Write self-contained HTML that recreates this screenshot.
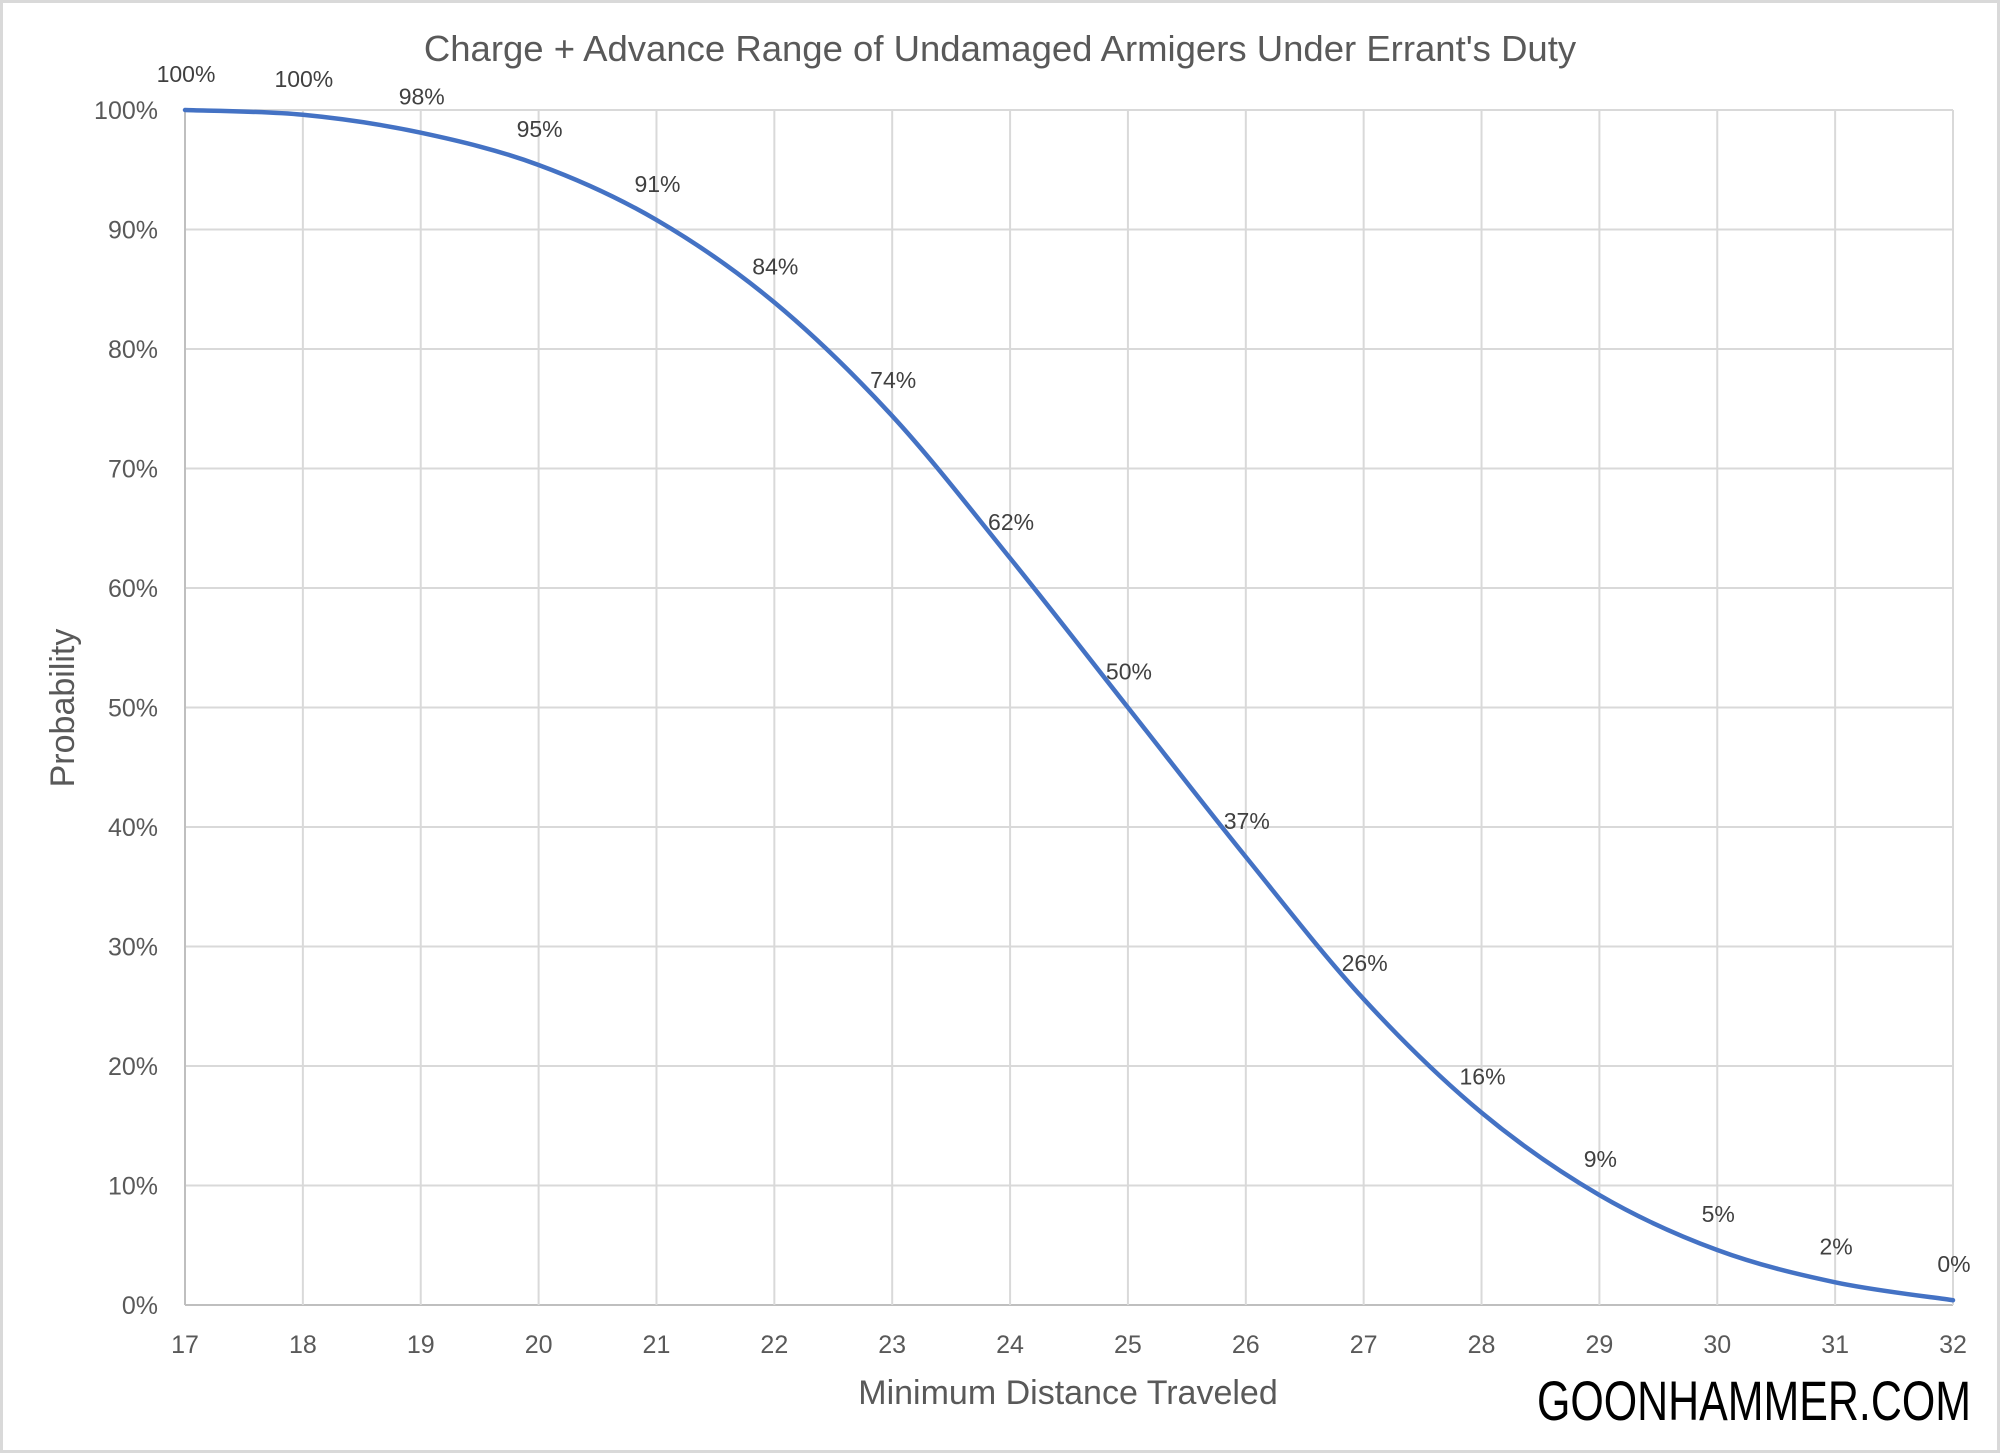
<!DOCTYPE html>
<html><head><meta charset="utf-8"><style>
html,body{margin:0;padding:0;background:#fff}
svg{display:block}
text{font-family:"Liberation Sans",sans-serif}
</style></head><body>
<svg id="s" width="2000" height="1453" viewBox="0 0 2000 1453" xmlns="http://www.w3.org/2000/svg">
<rect x="1.5" y="1.5" width="1997" height="1450" fill="#fff" stroke="#d9d9d9" stroke-width="3"/>
<g id="grid" stroke="#d9d9d9" stroke-width="2"></g>
<g id="lab" fill="#595959" font-size="25"></g>
<path id="curve" fill="none" stroke="#4472c4" stroke-width="4.5" stroke-linecap="round"/>
<g id="dl" fill="#404040" font-size="23" text-anchor="middle"></g>
<text x="1000" y="61" text-anchor="middle" font-size="36.5" fill="#595959">Charge + Advance Range of Undamaged Armigers Under Errant's Duty</text>
<text x="1068" y="1404" text-anchor="middle" font-size="34" fill="#595959">Minimum Distance Traveled</text>
<text transform="translate(74,708) rotate(-90)" text-anchor="middle" font-size="34" fill="#595959">Probability</text>
<text x="1537" y="1420" font-size="56" fill="#000" textLength="434" lengthAdjust="spacingAndGlyphs" font-family="'DejaVu Sans Condensed','Liberation Sans',sans-serif">GOONHAMMER.COM</text>
</svg>
<script>
var L=185,R=1953,T=110,B=1305,ns="http://www.w3.org/2000/svg";
function X(i){return L+(i-17)*(R-L)/15}
function Y(v){return B-v*(B-T)/100}
function el(p,t,a,txt){var e=document.createElementNS(ns,t);for(var k in a)e.setAttribute(k,a[k]);if(txt!=null)e.textContent=txt;document.getElementById(p).appendChild(e);}
for(var v=0;v<=100;v+=10){el('grid','line',{x1:L,x2:R,y1:Y(v),y2:Y(v),stroke:v==0?'#bfbfbf':'#d9d9d9'});el('lab','text',{x:158,y:Y(v)+9,'text-anchor':'end'},v+'%');}
for(var i=17;i<=32;i++){el('grid','line',{x1:X(i),x2:X(i),y1:T,y2:B,stroke:i==17?'#bfbfbf':'#d9d9d9'});el('lab','text',{x:X(i),y:1353,'text-anchor':'middle'},i);}
var d=[100,99.6,98.1,95.4,90.8,83.9,74.4,62.5,50,37.5,25.6,16.1,9.2,4.6,1.9,0.4];
var lb=['100%','100%','98%','95%','91%','84%','74%','62%','50%','37%','26%','16%','9%','5%','2%','0%'];
var P=d.map(function(v,k){return [X(17+k),Y(v)]});
var s='M'+P[0][0]+','+P[0][1];
for(var k=0;k<P.length-1;k++){var p0=P[Math.max(0,k-1)],p1=P[k],p2=P[k+1],p3=P[Math.min(P.length-1,k+2)];
s+=' C'+(p1[0]+(p2[0]-p0[0])/6)+','+(p1[1]+(p2[1]-p0[1])/6)+' '+(p2[0]-(p3[0]-p1[0])/6)+','+(p2[1]-(p3[1]-p1[1])/6)+' '+p2[0]+','+p2[1];}
document.getElementById('curve').setAttribute('d',s);
for(var k=0;k<16;k++)el('dl','text',{x:P[k][0]+1,y:P[k][1]-28},lb[k]);
</script>
</body></html>
